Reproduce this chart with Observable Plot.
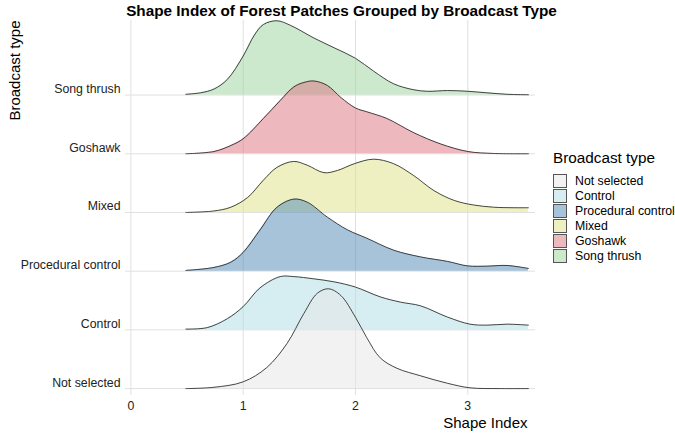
<!DOCTYPE html>
<html>
<head>
<meta charset="utf-8">
<script src="https://cdn.jsdelivr.net/npm/d3@7"></script>
<script src="https://cdn.jsdelivr.net/npm/@observablehq/plot@0.6"></script>
<style>
  body { margin: 0; background: #fff; font-family: "Liberation Sans", Arial, sans-serif; }
  #wrap { position: relative; width: 675px; height: 436px; }
  #legend { position: absolute; left: 553px; top: 148px; color: #000; }
  #legend .title { font-size: 15.3px; height: 25px; line-height: 19px; }
  #legend .row { display: flex; align-items: center; height: 15px; font-size: 12.3px; }
  #legend .sw { width: 12px; height: 12px; border: 1px solid #555; margin-right: 8px; box-sizing: content-box; }
</style>
</head>
<body>
<div id="wrap"></div>
<script>
// Broadcast types, bottom row first
const categories = ["Not selected", "Control", "Procedural control", "Mixed", "Goshawk", "Song thrush"];
const colors = ["#e5e5e5", "#aedde3", "#4d87b5", "#dde185", "#db737f", "#9bd39b"];
const xTicks = [0, 1, 2, 3];

// Kernel density estimates of the shape index, [shape index, density]
const notSelected = [[0.49,0],[0.74,0.017],[1.0,0.09],[1.21,0.28],[1.39,0.6],[1.54,1.0],[1.66,1.27],[1.76,1.33],[1.87,1.24],[2.0,0.95],[2.1,0.68],[2.22,0.41],[2.37,0.27],[2.58,0.17],[2.82,0.07],[3.02,0.01],[3.29,0],[3.54,0]];
const control = [[0.49,0.01],[0.68,0.03],[0.86,0.15],[1.0,0.31],[1.15,0.56],[1.33,0.71],[1.45,0.71],[1.63,0.68],[1.81,0.64],[2.0,0.57],[2.22,0.44],[2.4,0.37],[2.58,0.32],[2.82,0.17],[3.02,0.076],[3.17,0.063],[3.35,0.076],[3.54,0.063]];
const proceduralControl = [[0.49,0.01],[0.74,0.05],[0.89,0.12],[1.0,0.25],[1.15,0.55],[1.3,0.85],[1.45,0.96],[1.57,0.92],[1.75,0.72],[1.93,0.55],[2.1,0.44],[2.34,0.28],[2.58,0.19],[2.82,0.13],[3.0,0.07],[3.17,0.067],[3.35,0.076],[3.54,0.036]];
const mixed = [[0.49,0],[0.74,0.02],[0.89,0.07],[1.04,0.2],[1.18,0.43],[1.3,0.6],[1.45,0.68],[1.57,0.63],[1.72,0.53],[1.84,0.56],[1.99,0.65],[2.16,0.71],[2.34,0.65],[2.52,0.49],[2.7,0.29],[2.88,0.16],[3.05,0.1],[3.23,0.07],[3.41,0.063],[3.54,0.063]];
const goshawk = [[0.49,0],[0.74,0.03],[0.89,0.11],[1.0,0.2],[1.18,0.47],[1.33,0.71],[1.45,0.89],[1.54,0.95],[1.63,0.97],[1.75,0.91],[1.87,0.75],[2.0,0.61],[2.1,0.56],[2.28,0.47],[2.52,0.28],[2.76,0.13],[3.0,0.03],[3.23,0.004],[3.54,0]];
const songThrush = [[0.49,0.01],[0.62,0.03],[0.74,0.08],[0.86,0.21],[1.0,0.52],[1.1,0.8],[1.18,0.94],[1.3,0.99],[1.42,0.93],[1.63,0.76],[1.81,0.63],[2.0,0.49],[2.16,0.32],[2.34,0.15],[2.52,0.07],[2.64,0.05],[2.82,0.06],[3.0,0.05],[3.17,0.03],[3.35,0.01],[3.54,0.004]];

const densities = [notSelected, control, proceduralControl, mixed, goshawk, songThrush];
const ridgeScale = 1.278; // ridge height (in rows) per unit of density

const rows = densities.map((pts, i) =>
  pts.map(([x, d]) => ({ type: categories[i], index: i, x, top: i + d * ridgeScale }))
);

// Ridges are drawn from the top row down so lower ones overlap upper ones
const ridgeMarks = [];
for (let i = categories.length - 1; i >= 0; i--) {
  ridgeMarks.push(
    Plot.areaY(rows[i], { x: "x", y1: "index", y2: "top", fill: colors[i], fillOpacity: 0.5, curve: "catmull-rom" }),
    Plot.lineY(rows[i], { x: "x", y: "top", stroke: "#1a1a1a", strokeWidth: 0.8, curve: "catmull-rom" })
  );
}

const chart = Plot.plot({
  width: 675,
  height: 436,
  marginLeft: 125,
  marginRight: 140,
  marginTop: 20,
  marginBottom: 41,
  style: { fontFamily: "Liberation Sans, Arial, sans-serif", background: "#fff" },
  x: { domain: [-0.048, 3.603] },
  y: { domain: [-0.118, 6.27] },
  marks: [
    Plot.ruleX(xTicks, { stroke: "#e0e0e0", strokeWidth: 1 }),
    Plot.ruleY(d3.range(categories.length), { stroke: "#e0e0e0", strokeWidth: 1 }),
    ...ridgeMarks,
    Plot.axisX({ ticks: xTicks, tickFormat: d3.format("d"), tickSize: 0, tickPadding: 6, fontSize: 12.3, fill: "#222", label: null }),
    Plot.axisY({ ticks: d3.range(categories.length), tickFormat: i => categories[i], tickSize: 0, tickPadding: 5, dy: -6, fontSize: 12.3, fill: "#222", label: null }),
    Plot.text(["Shape Index"], { text: d => d, frameAnchor: "bottom-right", dx: -8, dy: 32, textAnchor: "end", fontSize: 15, fill: "#000" }),
    Plot.text(["Broadcast type"], { text: d => d, frameAnchor: "top-left", dx: -116, dy: 0, rotate: -90, textAnchor: "end", fontSize: 15, fill: "#000" }),
    Plot.text(["Shape Index of Forest Patches Grouped by Broadcast Type"], { text: d => d, frameAnchor: "top-left", dx: 216, dy: -15, textAnchor: "middle", fontSize: 15.3, fontWeight: "bold", fill: "#000" })
  ]
});

const wrap = document.getElementById("wrap");
wrap.appendChild(chart);

// Legend for the fill colours
const legend = d3.select(wrap).append("div").attr("id", "legend");
legend.append("div").attr("class", "title").text("Broadcast type");
const items = legend.selectAll(".row").data(categories).join("div").attr("class", "row");
items.append("div").attr("class", "sw")
  .style("background", (d, i) => d3.interpolateRgb("#ffffff", colors[i])(0.5));
items.append("span").text(d => d);
</script>
</body>
</html>
